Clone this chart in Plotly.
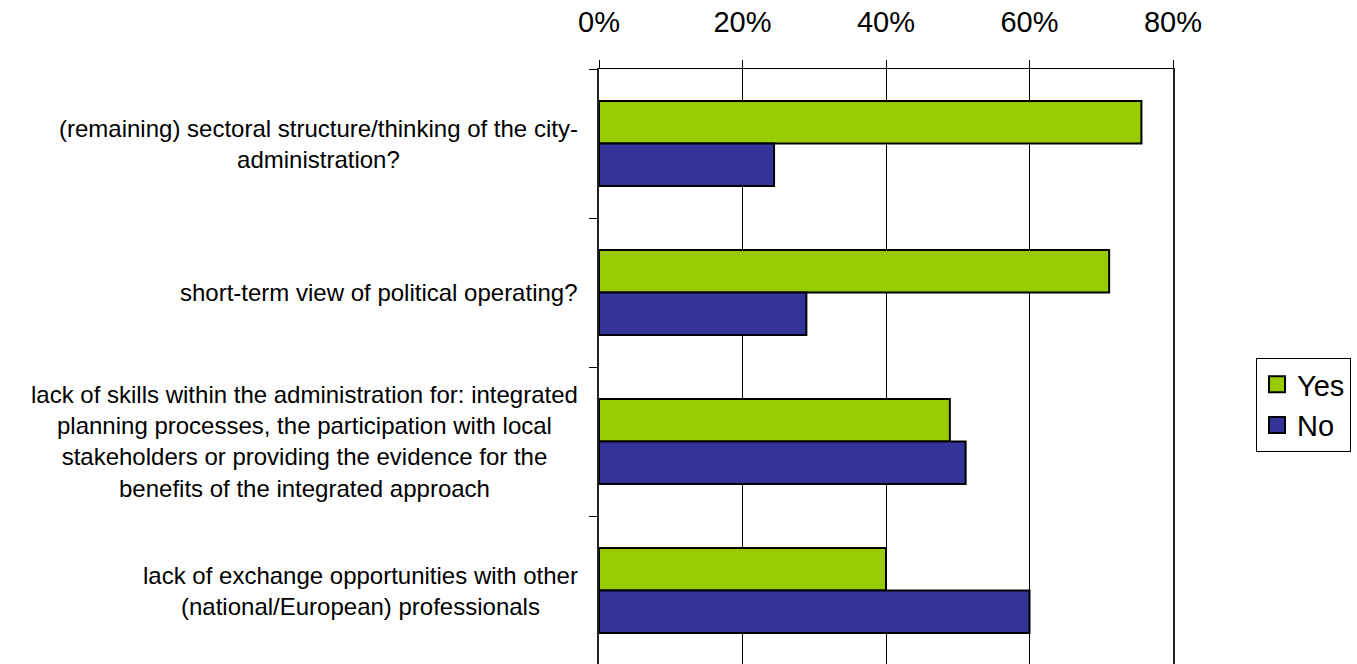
import plotly.graph_objects as go

# Survey: obstacles to an integrated approach (share of respondents)
categories = [
    "(remaining) sectoral structure/thinking of the city-<br>administration?",
    "short-term view of political operating?",
    "lack of skills within the administration for: integrated<br>planning processes, the participation with local<br>stakeholders or providing the evidence for the<br>benefits of the integrated approach",
    "lack of exchange opportunities with other<br>(national/European) professionals",
]
yes_values = [75.6, 71.1, 48.9, 40.0]
no_values = [24.4, 28.9, 51.1, 60.0]
series_names = ["Yes", "No"]
series_colors = ["#99CC00", "#333399"]
x_ticks = [0, 20, 40, 60, 80]

FONT = "Liberation Sans, Arial, sans-serif"
W, H = 1357, 664
ML, MR, MT, MB = 599, 184, 69, 0
band_px = 149.0
plot_h = H - MT - MB
y_bottom = -0.5 + plot_h / band_px

idx = list(range(len(categories)))

fig = go.Figure()
for name, vals, col in zip(series_names, [yes_values, no_values], series_colors):
    fig.add_trace(go.Bar(
        y=idx, x=vals, orientation="h", name=name,
        marker=dict(color=col, line=dict(color="black", width=2)),
        showlegend=False,
    ))
    # legend entry with a larger square swatch
    fig.add_trace(go.Scatter(
        x=[None], y=[None], mode="markers", name=name,
        marker=dict(symbol="square", size=17, color=col,
                    line=dict(color="black", width=2)),
    ))

# category labels, centred blocks right-aligned against the axis
for i, label in zip(idx, categories):
    fig.add_annotation(
        x=0, xref="paper", y=i, yref="y", text=label,
        xanchor="right", yanchor="middle", align="center",
        xshift=-19, showarrow=False,
        font=dict(family=FONT, size=24, color="black"),
    )

fig.update_layout(
    width=W, height=H,
    margin=dict(l=ML, r=MR, t=MT, b=MB, pad=0),
    paper_bgcolor="white", plot_bgcolor="white",
    barmode="group", bargap=0.43, bargroupgap=0,
    font=dict(family=FONT, color="black"),
    showlegend=True,
    legend=dict(
        x=(1256 - ML) / (W - ML - MR), xanchor="left",
        y=(H - MB - 358) / plot_h, yanchor="top",
        bordercolor="black", borderwidth=1, bgcolor="white",
        font=dict(family=FONT, size=29, color="black"),
        itemwidth=30, tracegroupgap=0,
    ),
    xaxis=dict(
        side="top", range=[0, 80], tickvals=x_ticks,
        ticktext=[f"{v}%" for v in x_ticks],
        ticks="outside", ticklen=8, tickcolor="black", tickwidth=1,
        showline=True, linecolor="black", linewidth=1,
        showgrid=True, gridcolor="black", gridwidth=1,
        zeroline=False, fixedrange=True,
        tickfont=dict(family=FONT, size=29, color="black"),
        ticklabelstandoff=16,
    ),
    yaxis=dict(
        type="linear", range=[y_bottom, -0.5],
        tickvals=[i - 0.5 for i in idx] + [len(idx) - 0.5],
        showticklabels=False,
        ticks="outside", ticklen=8, tickcolor="black", tickwidth=1,
        showline=True, linecolor="#222222", linewidth=2, mirror=True,
        showgrid=False, zeroline=False, fixedrange=True,
    ),
)

fig.write_html("out.html")
